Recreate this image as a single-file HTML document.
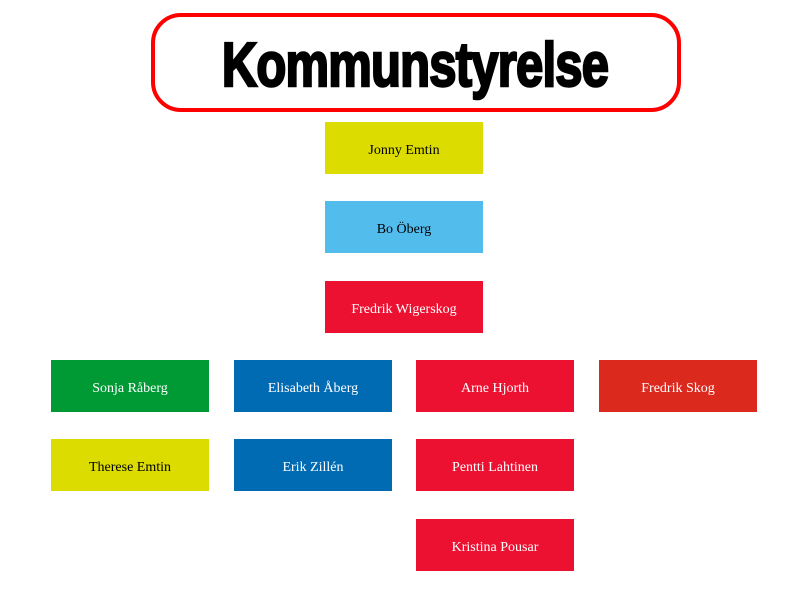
<!DOCTYPE html>
<html><head><meta charset="utf-8"><style>
body{margin:0;width:800px;height:600px;background:#fff;position:relative;overflow:hidden}
.t{position:absolute;left:151px;top:13px;width:522px;height:91px;border:4px solid #f00;border-radius:30px;}
.tt{position:absolute;left:0;top:30px;width:830px;text-align:center;font:bold 62px "Liberation Sans",sans-serif;letter-spacing:-1px;transform:scaleX(0.79);transform-origin:415px 0;line-height:72px;-webkit-text-stroke:2.5px #000}
.b{position:absolute;width:158px;height:52px;padding-top:5px;box-sizing:border-box;display:flex;align-items:center;justify-content:center;font:14px "Liberation Serif",serif;color:#fff}
</style></head><body>
<div class="t"></div>
<div class="tt">Kommunstyrelse</div>
<div class="b" style="left:325px;top:122px;background:#dcdc00;color:#000">Jonny Emtin</div>
<div class="b" style="left:325px;top:201px;background:#52bdec;color:#000">Bo Öberg</div>
<div class="b" style="left:325px;top:281px;background:#ed1131">Fredrik Wigerskog</div>
<div class="b" style="left:51px;top:360px;background:#009a35">Sonja Råberg</div>
<div class="b" style="left:234px;top:360px;background:#006ab3">Elisabeth Åberg</div>
<div class="b" style="left:416px;top:360px;background:#ed1131">Arne Hjorth</div>
<div class="b" style="left:599px;top:360px;background:#dc291e">Fredrik Skog</div>
<div class="b" style="left:51px;top:439px;background:#dcdc00;color:#000">Therese Emtin</div>
<div class="b" style="left:234px;top:439px;background:#006ab3">Erik Zillén</div>
<div class="b" style="left:416px;top:439px;background:#ed1131">Pentti Lahtinen</div>
<div class="b" style="left:416px;top:519px;background:#ed1131">Kristina Pousar</div>
</body></html>
